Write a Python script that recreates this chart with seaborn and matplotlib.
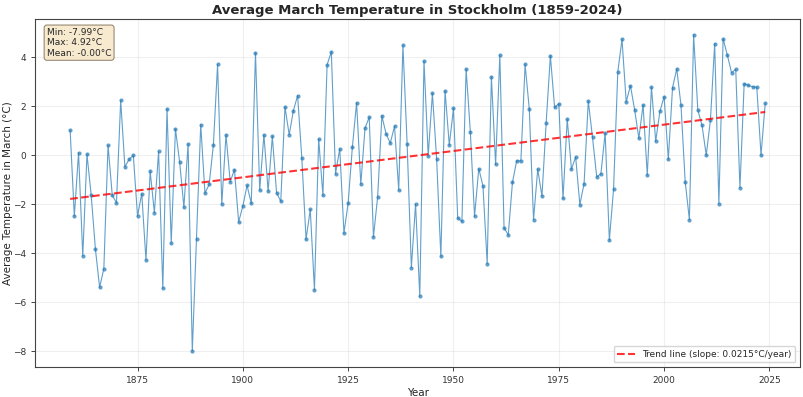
import numpy as np
import pandas as pd
import matplotlib
matplotlib.use("Agg")
import matplotlib.pyplot as plt
import seaborn as sns

# March temperature anomaly for Stockholm
years = list(range(1859, 2025))
temps = [
    1.02, -2.48, 0.11, -4.11, 0.04, -1.63, -3.83, -5.39, -4.63, 0.41,   # 1859-1868
    -1.63, -1.94, 2.24, -0.47, -0.16, 0.00, -2.48, -1.56, -4.27, -0.65,  # 1869-1878
    -2.34, 0.16, -5.43, 1.90, -3.59, 1.08, -0.28, -2.11, 0.46, -7.99,    # 1879-1888
    -3.43, 1.25, -1.54, -1.19, 0.41, 3.71, -1.99, 0.84, -1.08, -0.58,    # 1889-1898
    -2.72, -2.07, -1.23, -1.96, 4.19, -1.42, 0.84, -1.46, 0.77, -1.52,   # 1899-1908
    -1.88, 1.98, 0.84, 1.83, 2.44, -0.12, -3.43, -2.21, -5.49, 0.68,     # 1909-1918
    -1.63, 3.70, 4.23, -0.75, 0.27, -3.17, -1.94, 0.34, 2.15, -1.18,     # 1919-1928
    1.11, 1.56, -3.33, -1.69, 1.61, 0.88, 0.50, 1.19, -1.42, 4.49,       # 1929-1938
    0.45, -4.58, -1.99, -5.76, 3.85, -0.01, 2.53, -0.15, -4.13, 2.64,    # 1939-1948
    0.42, 1.92, -2.55, -2.70, 3.52, 0.96, -2.49, -0.54, -1.25, -4.42,    # 1949-1958
    3.21, -0.37, 4.09, -2.95, -3.25, -1.10, -0.22, -0.23, 3.71, 1.88,    # 1959-1968
    -2.63, -0.56, -1.67, 1.33, 4.07, 1.96, 2.11, -1.76, 1.48, -0.56,     # 1969-1978
    -0.07, -2.01, -1.15, 2.22, 0.73, -0.88, -0.75, 0.92, -3.46, -1.38,   # 1979-1988
    3.40, 4.74, 2.18, 2.85, 1.86, 0.70, 2.06, -0.80, 2.78, 0.58,         # 1989-1998
    1.80, 2.40, -0.16, 2.77, 3.53, 2.05, -1.07, -2.63, 4.92, 1.85,       # 1999-2008
    1.22, 0.01, 1.45, 4.56, -1.97, 4.76, 4.10, 3.38, 3.51, -1.33,        # 2009-2018
    2.93, 2.86, 2.80, 2.78, 0.01, 2.13,                                  # 2019-2024
]
stats_text = "Min: -7.99°C\nMax: 4.92°C\nMean: -0.00°C"
trend_label = "Trend line (slope: 0.0215°C/year)"

df = pd.DataFrame({"Year": years, "Temp": temps})

sns.set_style("ticks")
plt.rcParams["font.family"] = ["DejaVu Sans"]
plt.rcParams["axes.edgecolor"] = "#444444"

fig, ax = plt.subplots(figsize=(8.04, 3.97), dpi=100)
fig.subplots_adjust(left=0.044, right=0.995, bottom=0.076, top=0.952)

sns.lineplot(data=df, x="Year", y="Temp", ax=ax, color="#1f77b4", linewidth=0.8,
             alpha=0.7, marker="o", markersize=3, markeredgecolor="#1f77b4",
             markeredgewidth=0)

# 趋势线
coef = np.polyfit(df["Year"], df["Temp"], 1)
trend = np.polyval(coef, df["Year"])
ax.plot(df["Year"], trend, "r--", linewidth=1.5, alpha=0.8, label=trend_label)

ax.set_title("Average March Temperature in Stockholm (1859-2024)", fontsize=9.5,
             fontweight="bold", pad=4)
ax.set_xlabel("Year", fontsize=7.5, labelpad=2)
ax.set_ylabel("Average Temperature in March (°C)", fontsize=7.5, labelpad=0)
ax.tick_params(labelsize=6.5, length=3, width=0.7, colors="#444444", labelcolor="#333333")
ax.grid(True, alpha=0.3)
for sp in ax.spines.values():
    sp.set_visible(True)
    sp.set_linewidth(0.8)

ax.text(0.015, 0.975, stats_text, transform=ax.transAxes, fontsize=6.5, va="top",
        bbox=dict(boxstyle="round", facecolor="#f5deb3a0", edgecolor="#8a7a60",
                  linewidth=0.7))
ax.legend(loc="lower right", fontsize=6.5)

fig.savefig("out.png", dpi=100)
